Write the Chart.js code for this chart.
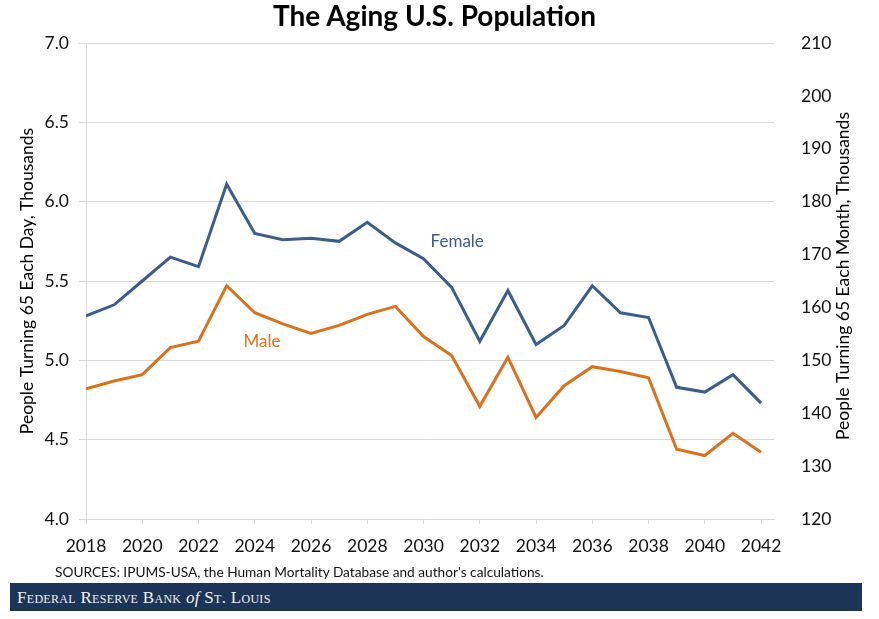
<!DOCTYPE html>
<html>
<head>
<meta charset="utf-8">
<script src="https://cdn.jsdelivr.net/npm/chart.js@4.4.1/dist/chart.umd.min.js"></script>
<style>
  html, body { margin: 0; padding: 0; background: #fff; }
  #wrap { position: relative; width: 879px; height: 619px; overflow: hidden; }
  #chart { position: absolute; left: 0; top: 0; }
  #title { position: absolute; left: 0; width: 869px; top: -2px; text-align: center;
           font: bold 28px Lato, sans-serif; color: #000; }
  #src { position: absolute; left: 55px; top: 563px; font: 13.7px Lato, sans-serif; color: #111; }
  #bank { position: absolute; left: 10px; top: 583px; width: 852px; height: 28px; background: #1c3556;
          color: #f2f2f2; font: 17px "Liberation Serif", serif; font-variant: small-caps; line-height: 29px;
          padding-left: 7px; box-sizing: border-box; letter-spacing: 0.3px; }
  #bank i { font-variant: normal; }
</style>
</head>
<body>
<div id="wrap">
  <canvas id="chart" width="879" height="619"></canvas>
  <div id="title">The Aging U.S. Population</div>
  <div id="src">SOURCES: IPUMS-USA, the Human Mortality Database and author's calculations.</div>
  <div id="bank">Federal Reserve Bank <i>of</i> St. Louis</div>
</div>
<script>
// dati (migliaia di persone che compiono 65 anni ogni giorno)
var years = [2018, 2019, 2020, 2021, 2022, 2023, 2024, 2025, 2026, 2027, 2028, 2029, 2030,
             2031, 2032, 2033, 2034, 2035, 2036, 2037, 2038, 2039, 2040, 2041, 2042];
var female = [5.28, 5.35, 5.50, 5.65, 5.59, 6.11, 5.80, 5.76, 5.77, 5.75, 5.87, 5.74, 5.64,
              5.46, 5.12, 5.44, 5.10, 5.22, 5.47, 5.30, 5.27, 4.83, 4.80, 4.91, 4.73];
var male = [4.82, 4.87, 4.91, 5.08, 5.12, 5.47, 5.30, 5.23, 5.17, 5.22, 5.29, 5.34, 5.15,
            5.03, 4.71, 5.02, 4.64, 4.84, 4.96, 4.93, 4.89, 4.44, 4.40, 4.54, 4.42];
var seriesNames = ['Female', 'Male'];
var seriesColors = ['#3b5d8b', '#d9711d'];
// posizione delle etichette delle serie (in coordinate dei dati)
var labelPos = [{ x: 2030.25, y: 5.75 }, { x: 2023.6, y: 5.12 }];
var rightTitle = 'People Turning 65 Each Month, Thousands';

var gridColor = '#d9d9d9';
var tickFont = { family: 'Lato', size: 17.5 };

var extraText = {
    id: 'extraText',
    afterDatasetsDraw: function (chart) {
        var c = chart.ctx;
        c.save();
        c.font = '17px Lato';
        c.textBaseline = 'middle';
        c.textAlign = 'left';
        for (var i = 0; i < seriesNames.length; i++) {
            c.fillStyle = seriesColors[i];
            c.fillText(seriesNames[i], chart.scales.x.getPixelForValue(labelPos[i].x),
                       chart.scales.y.getPixelForValue(labelPos[i].y));
        }
        // titolo asse destro, letto dal basso verso l'alto come nell'originale
        var a = chart.chartArea;
        c.translate(843, (a.top + a.bottom) / 2 - 5);
        c.rotate(-Math.PI / 2);
        c.textAlign = 'center';
        c.fillStyle = '#000';
        c.font = '17.5px Lato';
        c.fillText(rightTitle, 0, 0);
        c.restore();
    }
};

var ctx = document.getElementById('chart');
var myChart = new Chart(ctx, {
    type: 'line',
    data: {
        datasets: [
            { label: seriesNames[0], data: years.map(function (y, i) { return { x: y, y: female[i] }; }),
              borderColor: seriesColors[0], borderWidth: 3, pointRadius: 0, tension: 0, yAxisID: 'y' },
            { label: seriesNames[1], data: years.map(function (y, i) { return { x: y, y: male[i] }; }),
              borderColor: seriesColors[1], borderWidth: 3, pointRadius: 0, tension: 0, yAxisID: 'y' }
        ]
    },
    options: {
        responsive: false,
        animation: false,
        layout: { padding: { top: 43, right: 0, bottom: 0, left: 0 } },
        plugins: { legend: { display: false }, tooltip: { enabled: false } },
        scales: {
            x: {
                type: 'linear',
                min: 2018,
                max: 2042.46,
                afterBuildTicks: function (s) {
                    s.ticks = years.filter(function (y) { return y % 2 === 0; }).map(function (y) { return { value: y }; });
                },
                afterFit: function (s) { s.height = 100; },
                ticks: { color: '#111', font: tickFont, padding: 12, maxRotation: 0, autoSkip: false,
                         callback: function (v) { return String(v); } },
                grid: { drawOnChartArea: false, tickLength: 5, color: gridColor },
                border: { color: gridColor }
            },
            y: {
                position: 'left',
                min: 4, max: 7,
                afterFit: function (s) { s.width = 86; },
                ticks: { stepSize: 0.5, color: '#111', font: tickFont, padding: 10,
                         callback: function (v) { return v.toFixed(1); } },
                grid: { color: gridColor, tickLength: 7 },
                border: { color: gridColor },
                title: { display: true, text: 'People Turning 65 Each Day, Thousands',
                         font: { family: 'Lato', size: 17.5 }, color: '#000', padding: { top: 17, bottom: 0 } }
            },
            y2: {
                position: 'right',
                min: 120, max: 210,
                afterFit: function (s) { s.width = 105; },
                ticks: { stepSize: 10, color: '#111', font: tickFont, padding: 19 },
                grid: { display: false },
                border: { display: false }
            }
        }
    },
    plugins: [extraText]
});
</script>
</body>
</html>
